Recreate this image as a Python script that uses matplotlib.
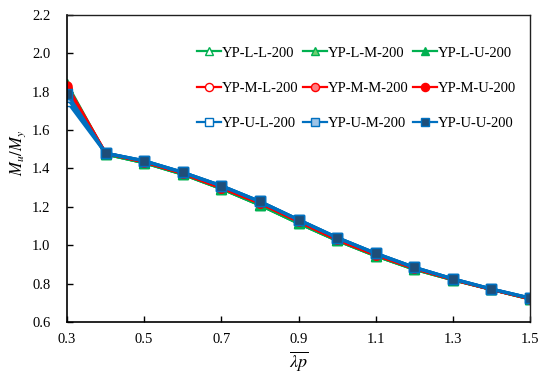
import matplotlib
matplotlib.use("Agg")
import matplotlib.pyplot as plt
from matplotlib.ticker import FixedLocator, FixedFormatter

plt.rcParams['font.family'] = ['Liberation Serif', 'DejaVu Serif']
plt.rcParams['mathtext.fontset'] = 'stix'

x = [0.3, 0.4, 0.5, 0.6, 0.7, 0.8, 0.9, 1.0, 1.1, 1.2, 1.3, 1.4, 1.5]

xticks = [0.3, 0.5, 0.7, 0.9, 1.1, 1.3, 1.5]
yticks = [0.6, 0.8, 1.0, 1.2, 1.4, 1.6, 1.8, 2.0, 2.2]

labels = ['YP-L-L-200', 'YP-L-M-200', 'YP-L-U-200',
          'YP-M-L-200', 'YP-M-M-200', 'YP-M-U-200',
          'YP-U-L-200', 'YP-U-M-200', 'YP-U-U-200']

yp_l_l = [1.82, 1.475, 1.43, 1.37, 1.295, 1.21, 1.115, 1.025, 0.945, 0.875, 0.82, 0.77, 0.72]
yp_l_m = [1.83, 1.475, 1.43, 1.37, 1.295, 1.21, 1.115, 1.025, 0.945, 0.875, 0.82, 0.77, 0.72]
yp_l_u = [1.84, 1.475, 1.43, 1.37, 1.295, 1.21, 1.115, 1.025, 0.945, 0.875, 0.82, 0.77, 0.72]
yp_m_l = [1.81, 1.48, 1.435, 1.375, 1.30, 1.22, 1.125, 1.03, 0.95, 0.88, 0.822, 0.77, 0.722]
yp_m_m = [1.82, 1.48, 1.435, 1.375, 1.30, 1.22, 1.125, 1.03, 0.95, 0.88, 0.822, 0.77, 0.722]
yp_m_u = [1.83, 1.48, 1.435, 1.375, 1.30, 1.22, 1.125, 1.03, 0.95, 0.88, 0.822, 0.77, 0.722]
yp_u_l = [1.75, 1.48, 1.44, 1.38, 1.31, 1.228, 1.133, 1.04, 0.958, 0.885, 0.825, 0.772, 0.725]
yp_u_m = [1.77, 1.48, 1.44, 1.38, 1.31, 1.228, 1.133, 1.04, 0.958, 0.885, 0.825, 0.772, 0.725]
yp_u_u = [1.79, 1.48, 1.44, 1.38, 1.31, 1.228, 1.133, 1.04, 0.958, 0.885, 0.825, 0.772, 0.725]

series = [yp_l_l, yp_l_m, yp_l_u, yp_m_l, yp_m_m, yp_m_u, yp_u_l, yp_u_m, yp_u_u]

green, red, blue = '#00B050', '#FF0000', '#0070C0'
styles = [
    dict(color=green, marker='^', mfc='white', mec=green),
    dict(color=green, marker='^', mfc='#6FCF6F', mec=green),
    dict(color=green, marker='^', mfc=green, mec=green),
    dict(color=red, marker='o', mfc='white', mec=red),
    dict(color=red, marker='o', mfc='#FF7C80', mec=red),
    dict(color=red, marker='o', mfc=red, mec=red),
    dict(color=blue, marker='s', mfc='white', mec=blue),
    dict(color=blue, marker='s', mfc='#9DC3E6', mec=blue),
    dict(color=blue, marker='s', mfc='#1F4E79', mec=blue),
]

fig = plt.figure(figsize=(5.47, 3.74), dpi=100)
ax = fig.add_axes([0.1225, 0.139, 0.8465, 0.821])

handles = []
for ys, lab, st in zip(series, labels, styles):
    h, = ax.plot(x, ys, label=lab, lw=2.25, ms=6.5, mew=1.0, **st)
    handles.append(h)

ax.set_xlim(0.3, 1.5)
ax.set_ylim(0.6, 2.2)
ax.xaxis.set_major_locator(FixedLocator(xticks))
ax.xaxis.set_major_formatter(FixedFormatter(['%.1f' % v for v in xticks]))
ax.yaxis.set_major_locator(FixedLocator(yticks))
ax.yaxis.set_major_formatter(FixedFormatter(['%.1f' % v for v in yticks]))
ax.tick_params(direction='in', labelsize=10.5, length=4, width=1, pad=8,
               top=False, right=False)
ax.tick_params(axis='y', pad=12)

for side in ['left', 'bottom']:
    ax.spines[side].set_color('black')
    ax.spines[side].set_linewidth(1.2)
for side in ['top', 'right']:
    ax.spines[side].set_color('#202020')
    ax.spines[side].set_linewidth(1.0)

ax.set_xlabel(r'$\overline{\lambda p}$', fontsize=13, labelpad=2)
ax.set_ylabel(r'$M_u/M_y$', fontsize=12)
ax.yaxis.set_label_coords(-0.085, 0.55)

# reorder so legend fills row-wise
order = [0, 3, 6, 1, 4, 7, 2, 5, 8]
leg = ax.legend([handles[i] for i in order], [labels[i] for i in order],
                ncol=3, loc='center', bbox_to_anchor=(0.626, 0.762), frameon=False,
                fontsize=10.5, labelspacing=1.5, columnspacing=0.3,
                handlelength=1.6, handletextpad=0.1, markerscale=0.9)
for ln in leg.get_lines():
    ln.set_linewidth(1.6)

fig.savefig('out.png', dpi=100)
